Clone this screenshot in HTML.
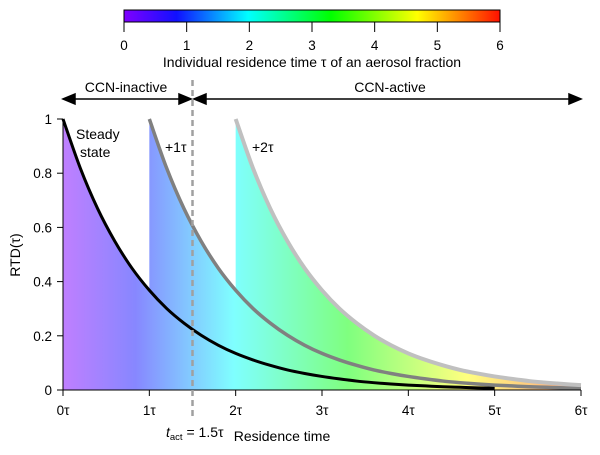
<!DOCTYPE html>
<html><head><meta charset="utf-8"><style>
body{margin:0;background:#fff}
svg text{font-family:"Liberation Sans",Arial,sans-serif;fill:#000}
</style></head><body>
<svg id="chart" width="600" height="450" viewBox="0 0 600 450" xmlns="http://www.w3.org/2000/svg">
<defs>
<linearGradient id="cb" x1="0" x2="1" y1="0" y2="0">
<stop offset="0" stop-color="#8000ff"/><stop offset="0.14" stop-color="#1010ff"/><stop offset="0.33" stop-color="#00ffff"/><stop offset="0.55" stop-color="#00ff00"/><stop offset="0.78" stop-color="#ffff00"/><stop offset="1" stop-color="#ff1000"/>
</linearGradient>
<linearGradient id="fillg" gradientUnits="userSpaceOnUse" x1="63" x2="581" y1="0" y2="0">
<stop offset="0" stop-color="#8000ff"/><stop offset="0.14" stop-color="#1010ff"/><stop offset="0.33" stop-color="#00ffff"/><stop offset="0.55" stop-color="#00ff00"/><stop offset="0.78" stop-color="#ffff00"/><stop offset="1" stop-color="#ff4000"/>
</linearGradient>
</defs>
<g>
<rect x="124" y="10" width="376" height="12" fill="url(#cb)" stroke="#000" stroke-width="1"/>
<g id="cbticks"></g>
<text x="312" y="67" font-size="14" text-anchor="middle">Individual residence time τ of an aerosol fraction</text>
</g>
<g stroke="#000" stroke-width="1.5">
<line x1="68" y1="99" x2="186" y2="99"/><line x1="199" y1="99" x2="576" y2="99"/>
<polygon points="63,99 75,94 75,104" fill="#000"/><polygon points="191,99 179,94 179,104" fill="#000"/>
<polygon points="194,99 206,94 206,104" fill="#000"/><polygon points="581,99 569,94 569,104" fill="#000"/>
</g>
<text x="126" y="92" font-size="14" text-anchor="middle">CCN-inactive</text>
<text x="390" y="92" font-size="14" text-anchor="middle">CCN-active</text>
<g id="plot"></g>
<text x="20" y="255" font-size="14" text-anchor="middle" transform="rotate(-90 20 255)">RTD(τ)</text>
<text x="282" y="441" font-size="14" text-anchor="middle">Residence time</text>
<text x="166" y="437" font-size="14"><tspan font-style="italic">t</tspan><tspan font-size="9.5" dy="3">act</tspan><tspan dy="-3"> = 1.5τ</tspan></text>
<text x="76" y="139" font-size="14">Steady</text>
<text x="80" y="157" font-size="14">state</text>
<text x="165" y="152" font-size="14">+1τ</text>
<text x="252" y="152" font-size="14">+2τ</text>
</svg>
<script>
const rtdStep = 0.2;
const rtdValues = [1,0.819,0.670,0.549,0.449,0.368,0.301,0.247,0.202,0.165,0.135,0.111,0.091,0.074,0.061,0.050,0.041,0.033,0.027,0.022,0.018,0.015,0.012,0.010,0.008,0.007];
const curveOffsets = [0,1,2];
const curveEnds = [5,6,6];
const curveColors = ['#000','#808080','#c0c0c0'];
const curveWidths = [3,3.5,4];
const xTicks = [0,1,2,3,4,5,6];
const xTickLabels = ['0τ','1τ','2τ','3τ','4τ','5τ','6τ'];
const yTicks = [0,0.2,0.4,0.6,0.8,1];
const yTickLabels = ['0','0.2','0.4','0.6','0.8','1'];
const cbTicks = [0,1,2,3,4,5,6];
const tAct = 1.5;
const NS='http://www.w3.org/2000/svg';
const X = t => 63 + t*(581-63)/6;
const Y = v => 390 - v*(390-119);
const CB = t => 124 + t*376/6;
function mk(tag, attrs, parent){const e=document.createElementNS(NS,tag);for(const k in attrs)e.setAttribute(k,attrs[k]);parent.appendChild(e);return e;}
const plot=document.getElementById('plot'), cbt=document.getElementById('cbticks');
cbTicks.forEach(t=>{
 const l=mk('line',{x1:CB(t),x2:CB(t),y1:22,y2:32,stroke:'#000','stroke-width':1},cbt);
 
 
 const tx=mk('text',{x:CB(t),y:50,'font-size':13.5,'text-anchor':'middle'},cbt);tx.textContent=t;
 
 
});
function pts(off,end){const p=[];for(let i=0;i<rtdValues.length;i++){const t=off+i*rtdStep;if(t>end+1e-9)break;p.push([X(t),Y(rtdValues[i])]);}return p;}
function smooth(p){let d='M'+p[0][0]+','+p[0][1];for(let i=0;i<p.length-1;i++){const p0=p[i-1]||p[i],p1=p[i],p2=p[i+1],p3=p[i+2]||p2;
 d+=' C'+(p1[0]+(p2[0]-p0[0])/6)+','+(p1[1]+(p2[1]-p0[1])/6)+' '+(p2[0]-(p3[0]-p1[0])/6)+','+(p2[1]-(p3[1]-p1[1])/6)+' '+p2[0]+','+p2[1];}return d;}
let fd='M'+X(0)+','+Y(0);
curveOffsets.forEach((o,k)=>{const segEnd=k<curveOffsets.length-1?curveOffsets[k+1]:6;const p=pts(o,segEnd);
 fd+=' L'+p[0][0]+','+p[0][1]+smooth(p).replace(/^M[^ ]+/,'');});
fd+=' L'+X(6)+','+Y(0)+' Z';
const area=mk('path',{d:fd,fill:'url(#fillg)','fill-opacity':0.5},plot);


curveOffsets.forEach((o,k)=>{const p=pts(o,curveEnds[k]);
 const c=mk('path',{d:smooth(p),fill:'none',stroke:curveColors[k],'stroke-width':curveWidths[k]},plot);
 
 });
const ax=mk('path',{d:'M'+X(0)+','+Y(1)+' L'+X(0)+','+Y(0)+' L'+X(6)+','+Y(0),fill:'none',stroke:'#000','stroke-width':1},plot);


yTicks.forEach((v,i)=>{mk('line',{x1:57,x2:63,y1:Y(v),y2:Y(v),stroke:'#000'},plot);
 const t=mk('text',{x:52,y:Y(v)+5,'font-size':13.5,'text-anchor':'end'},plot);t.textContent=yTickLabels[i];
 
 });
xTicks.forEach((v,i)=>{mk('line',{x1:X(v),x2:X(v),y1:390,y2:396,stroke:'#000'},plot);
 const t=mk('text',{x:X(v),y:415,'font-size':13.5,'text-anchor':'middle'},plot);t.textContent=xTickLabels[i];
 
 });
const dl=mk('line',{x1:X(tAct),x2:X(tAct),y1:80,y2:420,stroke:'#a0a0a0','stroke-width':2.5,'stroke-dasharray':'6,4'},plot);


</script>
</body></html>
